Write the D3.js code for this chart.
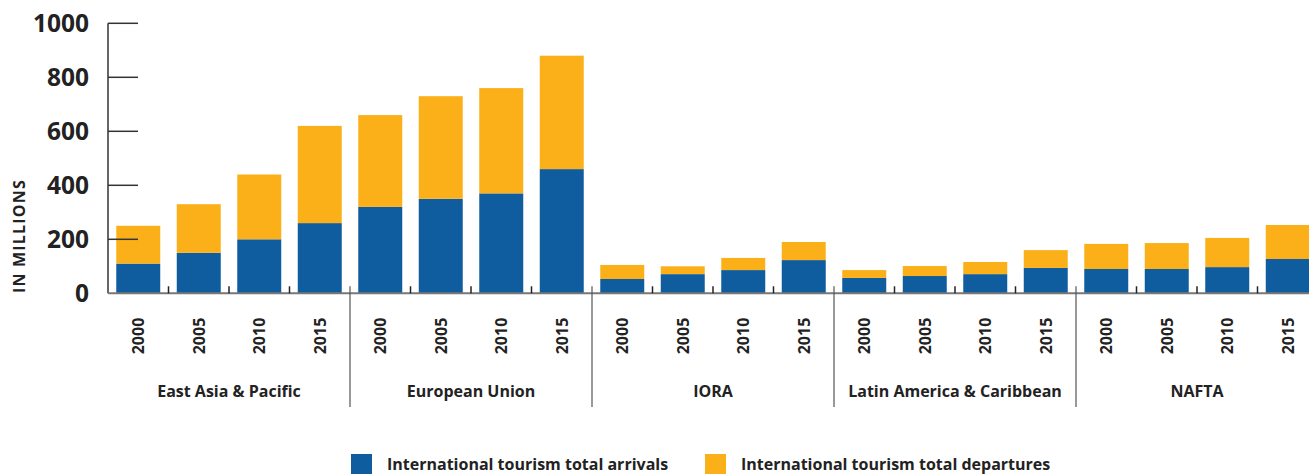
<!DOCTYPE html>
<html>
<head>
<meta charset="utf-8">
<script src="https://cdn.jsdelivr.net/npm/d3@7"></script>
<style>
  html, body { margin: 0; padding: 0; background: #fff; }
  svg { display: block; font-family: "Open Sans", "Noto Sans", sans-serif; }
</style>
</head>
<body>
<svg id="chart" width="1309" height="474"></svg>
<script>
const groups = ["East Asia & Pacific", "European Union", "IORA", "Latin America & Caribbean", "NAFTA"];
const years = ["2000", "2005", "2010", "2015"];
const arrivals = [
  110, 150, 200, 260,
  320, 350, 370, 460,
  53, 71, 86, 123,
  57, 64, 71, 94,
  90, 90, 97, 127
];
const departures = [
  140, 180, 240, 360,
  340, 380, 390, 420,
  52, 29, 45, 67,
  29, 37, 45, 66,
  93, 96, 108, 126
];
const yTicks = [0, 200, 400, 600, 800, 1000];
const seriesNames = ["International tourism total arrivals", "International tourism total departures"];
const colors = ["#0F5D9E", "#FBB019"];

const rows = [];
groups.forEach((g, gi) => years.forEach((y, yi) => {
  const i = gi * years.length + yi;
  rows.push({ key: g + "|" + y, group: g, year: y, arrivals: arrivals[i], departures: departures[i] });
}));

const svg = d3.select("#chart");
const x0 = 108, plotTop = 23.3, plotBottom = 293.3;
const step = 60.5;
const x = d3.scaleBand().domain(rows.map(d => d.key))
  .range([x0, x0 + rows.length * step]).paddingInner(0.273).paddingOuter(0.1365);
const y = d3.scaleLinear().domain([0, 1000]).range([plotBottom, plotTop]);

const stack = d3.stack().keys(["arrivals", "departures"]);
const layers = stack(rows);

svg.append("g").selectAll("g").data(layers).join("g")
  .attr("fill", (d, i) => colors[i])
  .selectAll("rect").data(d => d).join("rect")
  .attr("x", d => x(d.data.key))
  .attr("width", x.bandwidth())
  .attr("y", d => y(d[1]))
  .attr("height", d => y(d[0]) - y(d[1]));

// Y axis
const yAxis = svg.append("g");
yAxis.append("line").attr("x1", x0).attr("x2", x0).attr("y1", y(1000)).attr("y2", y(0))
  .attr("stroke", "#333").attr("stroke-width", 1.5);
yAxis.selectAll("line.tick").data(yTicks.filter(t => t > 0)).join("line")
  .attr("class", "tick")
  .attr("x1", x0).attr("x2", x0 + 30)
  .attr("y1", d => y(d)).attr("y2", d => y(d))
  .attr("stroke", "#333").attr("stroke-width", 1.5);
yAxis.selectAll("text").data(yTicks).join("text")
  .attr("x", 89).attr("y", d => y(d)).attr("dy", "0.36em")
  .attr("text-anchor", "end")
  .attr("font-size", 24.5).attr("font-weight", 700).attr("fill", "#222")
  .text(d => d);

svg.append("text")
  .attr("transform", `translate(25,${236}) rotate(-90)`)
  .attr("text-anchor", "middle")
  .attr("font-size", 16).attr("font-weight", 700).attr("fill", "#222")
  .attr("letter-spacing", 1.2)
  .text("IN MILLIONS");

// X axis
const xAxis = svg.append("g");
xAxis.append("line").attr("x1", x0).attr("x2", 1309).attr("y1", plotBottom).attr("y2", plotBottom)
  .attr("stroke", "#777").attr("stroke-width", 2);
const boundaries = d3.range(1, rows.length).map(i => x0 + i * step);
xAxis.selectAll("line.bt").data(boundaries.filter((b, i) => (i + 1) % years.length !== 0)).join("line")
  .attr("class", "bt")
  .attr("x1", d => d).attr("x2", d => d).attr("y1", plotBottom - 7).attr("y2", plotBottom)
  .attr("stroke", "#222").attr("stroke-width", 1.5);
xAxis.selectAll("line.gs").data(boundaries.filter((b, i) => (i + 1) % years.length === 0)).join("line")
  .attr("class", "gs")
  .attr("x1", d => d).attr("x2", d => d).attr("y1", plotBottom - 7).attr("y2", 407)
  .attr("stroke", "#555").attr("stroke-width", 1.2);
xAxis.selectAll("text.yr").data(rows).join("text")
  .attr("class", "yr")
  .attr("transform", d => `translate(${x(d.key) + x.bandwidth() / 2},${336}) rotate(-90)`)
  .attr("text-anchor", "middle").attr("dy", "0.36em")
  .attr("font-size", 16).attr("font-weight", 700).attr("fill", "#222")
  .text(d => d.year);
xAxis.selectAll("text.grp").data(groups).join("text")
  .attr("class", "grp")
  .attr("x", (g, gi) => x0 + (gi + 0.5) * years.length * step)
  .attr("y", 397)
  .attr("text-anchor", "middle")
  .attr("font-size", 16).attr("font-weight", 700).attr("fill", "#222")
  .text(g => g);

// Legend
const legendX = [351, 705];
const legend = svg.append("g").selectAll("g").data(seriesNames).join("g")
  .attr("transform", (d, i) => `translate(${legendX[i]},454)`);
legend.append("rect").attr("width", 21).attr("height", 20).attr("fill", (d, i) => colors[i]);
legend.append("text").attr("x", 36).attr("y", 16)
  .attr("font-size", 16).attr("font-weight", 700).attr("fill", "#222")
  .text(d => d);
</script>
</body>
</html>
